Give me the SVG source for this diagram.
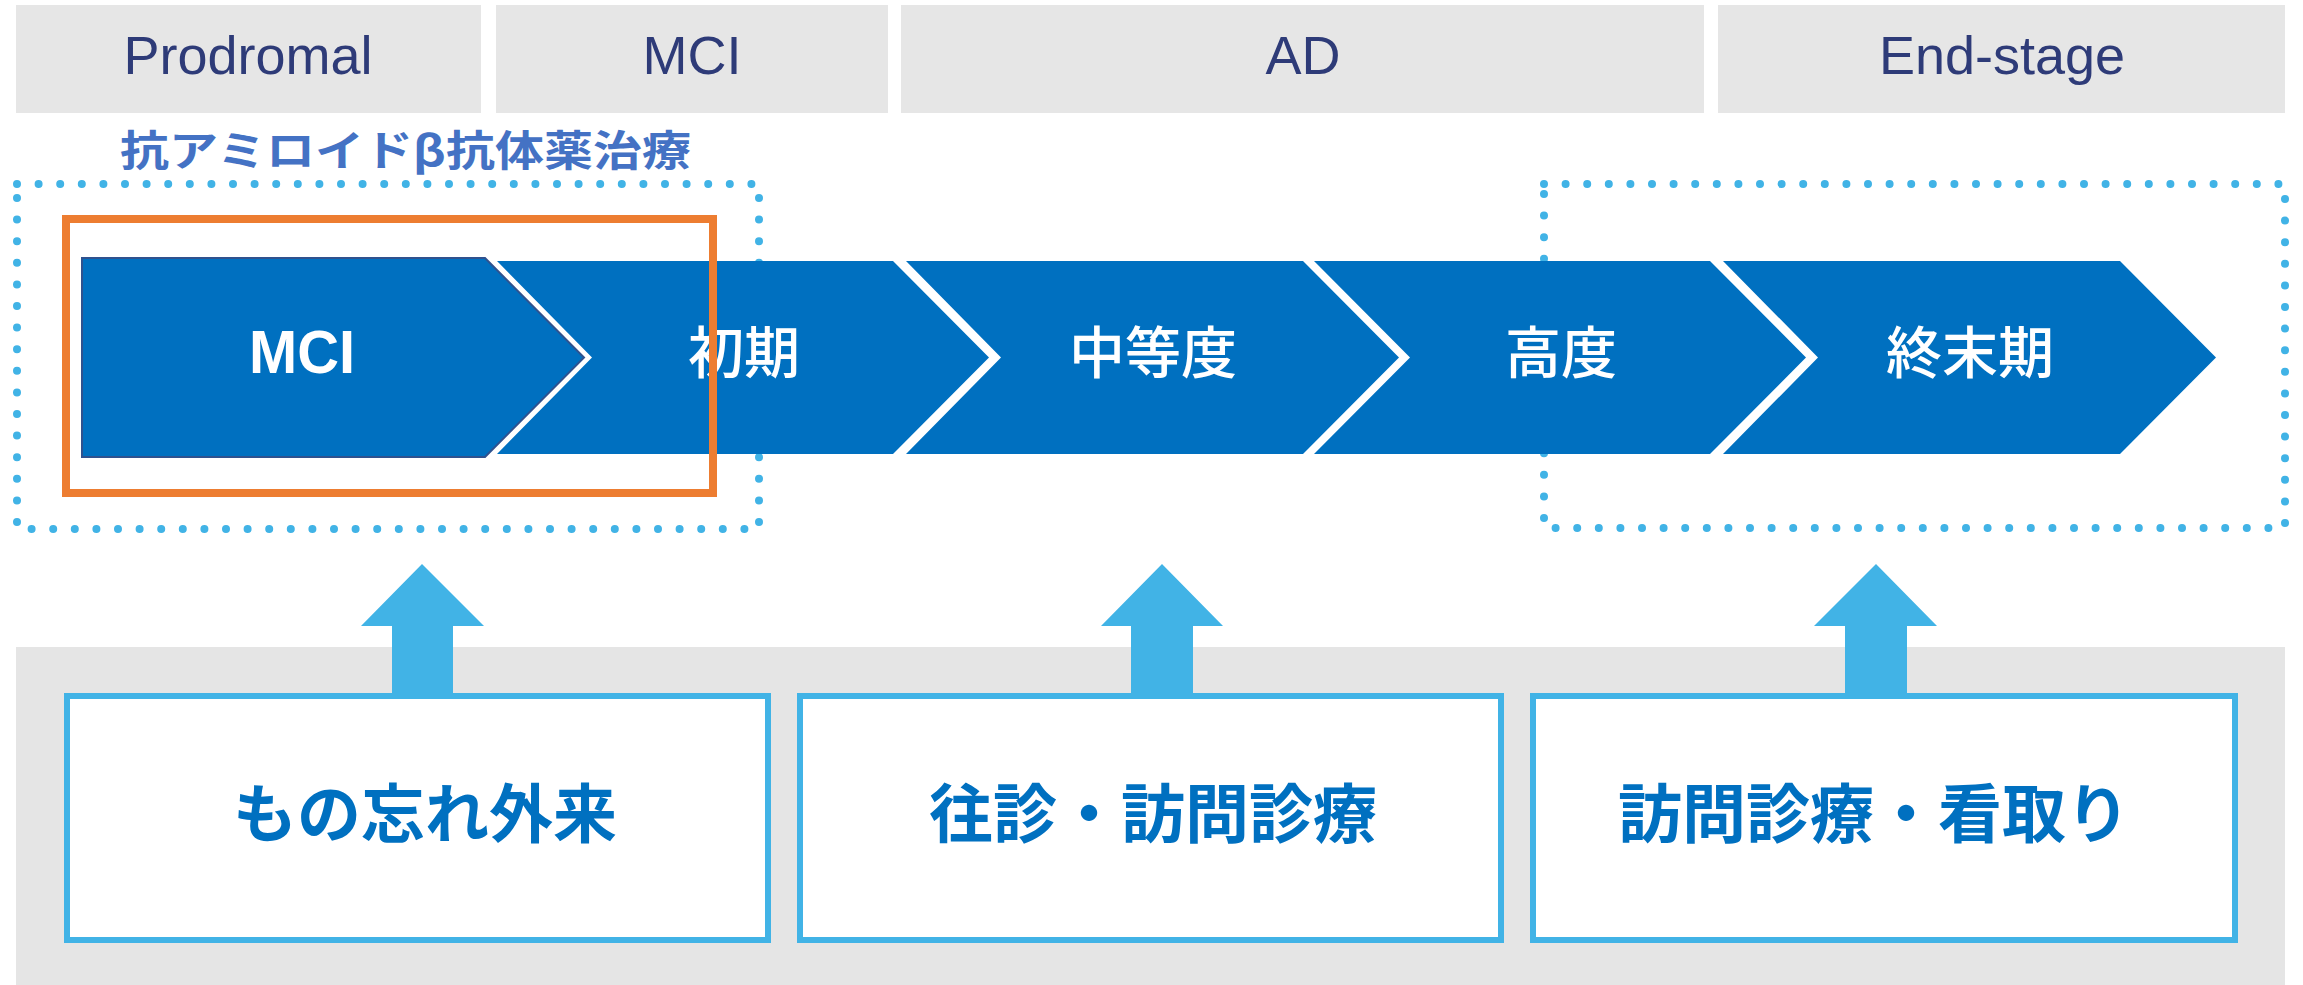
<svg xmlns="http://www.w3.org/2000/svg" width="2303" height="985" viewBox="0 0 2303 985">
<defs>
<style>
.hdr{fill:#E6E6E6}
.hdrt{font-family:"Liberation Sans",Arial,sans-serif;font-size:54px;fill:#2E3B78;text-anchor:middle}
.dot{fill:none;stroke:#41B3E6;stroke-width:8;stroke-dasharray:0 21.6;stroke-linecap:round}
.chev{fill:#0070C0}
.chevt{font-family:"Noto Sans CJK JP","Liberation Sans",sans-serif;font-size:56px;font-weight:500;fill:#FFFFFF;text-anchor:middle}
.chevm{font-family:"Liberation Sans",Arial,sans-serif;font-size:62px;font-weight:bold;fill:#FFFFFF;text-anchor:middle}
.box{fill:#FFFFFF;stroke:#41B3E6;stroke-width:6}
.boxt{font-family:"Noto Sans CJK JP",sans-serif;font-size:64px;font-weight:bold;fill:#0070C0;text-anchor:middle}
.ttl{font-family:"Noto Sans CJK JP",sans-serif;font-size:42px;font-weight:bold;fill:#4472C4}
.arr{fill:#41B3E6}
</style>
</defs>
<rect width="2303" height="985" fill="#FFFFFF"/>
<g id="header-prodromal"><rect class="hdr" x="16" y="5" width="465" height="108"/><text class="hdrt" x="248" y="74">Prodromal</text></g>
<g id="header-mci"><rect class="hdr" x="496" y="5" width="392" height="108"/><text class="hdrt" x="692" y="74">MCI</text></g>
<g id="header-ad"><rect class="hdr" x="901" y="5" width="803" height="108"/><text class="hdrt" x="1303" y="74">AD</text></g>
<g id="header-endstage"><rect class="hdr" x="1718" y="5" width="567" height="108"/><text class="hdrt" x="2002" y="74">End-stage</text></g>
<g id="antibody-group">
<rect class="dot" x="17" y="184" width="742" height="345"/>
<text class="ttl" x="120" y="166" textLength="571" lengthAdjust="spacingAndGlyphs">抗アミロイドβ抗体薬治療</text>
</g>
<g id="endstage-group"><rect class="dot" x="1544" y="184" width="741" height="344"/></g>
<g id="chev-mci"><path class="chev" d="M82,258 L485,258 L584,357.5 L485,457 L82,457 Z" stroke="#2F528F" stroke-width="2"/><text class="chevm" x="302" y="373" textLength="106" lengthAdjust="spacingAndGlyphs">MCI</text></g>
<g id="chev-early"><path class="chev" d="M497,261 L893,261 L989,357.5 L893,454 L497,454 L592,357.5 Z"/><text class="chevt" x="744" y="373">初期</text></g>
<g id="chev-moderate"><path class="chev" d="M906,261 L1303,261 L1399,357.5 L1303,454 L906,454 L1001,357.5 Z"/><text class="chevt" x="1153" y="373">中等度</text></g>
<g id="chev-severe"><path class="chev" d="M1314,261 L1710,261 L1806,357.5 L1710,454 L1314,454 L1410,357.5 Z"/><text class="chevt" x="1561" y="373">高度</text></g>
<g id="chev-terminal"><path class="chev" d="M1723,261 L2120,261 L2216,357.5 L2120,454 L1723,454 L1818,357.5 Z"/><text class="chevt" x="1970" y="373">終末期</text></g>
<g id="mci-highlight"><rect x="66" y="219" width="647" height="274" fill="none" stroke="#ED7D31" stroke-width="8"/></g>
<g id="band"><rect x="16" y="647" width="2269" height="338" fill="#E5E5E5"/></g>
<g id="connectors">
<path class="arr" d="M422,564 L484,626 L453,626 L453,696 L392,696 L392,626 L361,626 Z"/>
<path class="arr" d="M1162,564 L1223,626 L1193,626 L1193,696 L1131,696 L1131,626 L1101,626 Z"/>
<path class="arr" d="M1876,564 L1937,626 L1907,626 L1907,696 L1845,696 L1845,626 L1814,626 Z"/>
</g>
<g id="box-outpatient"><rect class="box" x="67" y="696" width="701" height="244"/><text class="boxt" x="425" y="837">もの忘れ外来</text></g>
<g id="box-homevisit"><rect class="box" x="800" y="696" width="701" height="244"/><text class="boxt" x="1153" y="837">往診・訪問診療</text></g>
<g id="box-endoflife"><rect class="box" x="1533" y="696" width="702" height="244"/><text class="boxt" x="1874" y="837">訪問診療・看取り</text></g>
</svg>
